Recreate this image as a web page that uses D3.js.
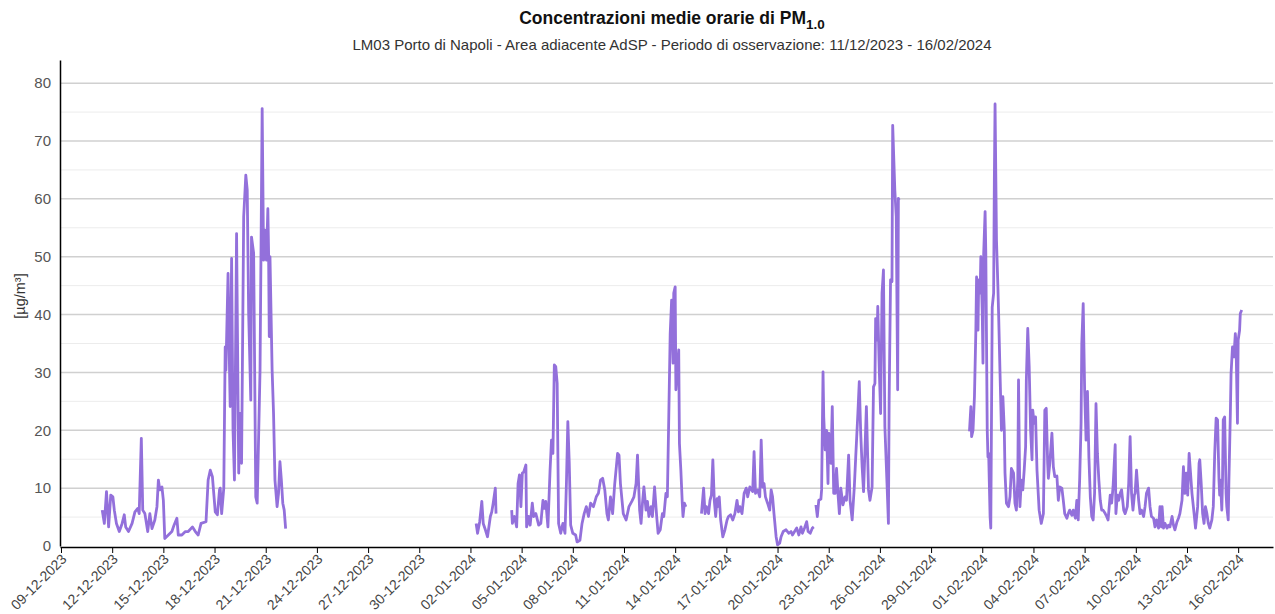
<!DOCTYPE html>
<html>
<head>
<meta charset="utf-8">
<script src="https://cdn.jsdelivr.net/npm/d3@7"></script>
<style>
  body { margin: 0; background: #fff; }
  text { font-family: "Liberation Sans", Arial, sans-serif; }
</style>
</head>
<body>
<script>
// hourly PM1.0 values, hours counted from 11/12/2023 00:00 (null = missing data)
const startDate = "2023-12-11 00:00"

const hours1 = [10,13,16,19,22,25,27,30,34,38,41,43,47,52,56,60,62,65,67,70,74,77,80,84,87,89,91,94,96,98,103,108,111,115,117,122,127,131,137,141,145,149,156,159,162,165,169,172,175,176,178,181,183,184,187,189,190,192,194,196,199,202,204,206,209,212,214,216,219,220,223,226,228,232,235,237,239,241,243,244,245,246,249,251,253,256,258,260,262,264,266,268]
const values1 = [6.2,3.9,9.4,3.3,8.8,8.5,6.2,3.9,2.5,3.9,5.4,3.3,2.5,3.9,5.9,6.5,5.6,18.6,6.2,5.6,2.5,5.6,3.0,4.5,6.8,11.4,9.7,10.2,7.9,1.3,1.9,2.5,3.6,4.8,1.9,1.9,2.5,2.5,3.3,2.5,1.9,3.9,4.2,11.4,13.1,12.0,5.9,5.4,9.7,10.0,5.6,10.0,34.4,30.4,47.1,31.0,24.1,49.7,20.0,11.4,54.0,12.6,22.9,14.3,56.9,64.1,61.5,40.2,25.2,53.4,50.6,8.5,7.4,30.4,75.6,49.4,54.6,49.4,58.3,51.1,36.2,50.0,30.4,22.9,11.4,6.8,9.1,14.6,11.4,7.4,6.2,3.0]

const hours2 = [536,538,541,544,546,549,552,556,558,560,563,564,575,586,587,590,593,595,597,599,601,603,606,607,610,612,615,617,620,624,627,630,632,634,637,640,642,644,646,648,650,652,655,658,661,663,665,667,669,672,676,678,682,685,688,691,694,697,701,705,708,711,714,717,720,722,725,728,731,735,737,739,743,747,751,755,758,761,763,766,768,770,772,775,777,779,782,784,787,790,792,795,798,800,803,805,807,809,811,813,814,816,817,819,821,822,824,826,827,829,831]
const values2 = [3.9,2.2,4.2,7.7,3.9,2.8,1.6,5.1,5.9,7.4,10.0,5.6,null,6.2,3.9,5.1,3.3,10.8,12.3,6.8,12.6,12.8,14.0,3.3,5.1,3.6,7.4,5.1,5.6,3.6,3.9,7.9,6.5,7.7,3.3,13.1,18.3,16.0,31.3,31.0,28.1,3.9,2.2,3.9,2.2,10.8,21.5,14.3,3.6,2.2,1.9,0.7,1.0,3.9,5.6,6.8,5.1,7.4,6.8,8.5,9.1,11.4,11.7,9.7,5.6,4.5,8.5,5.6,10.8,16.0,15.7,10.8,5.6,4.5,6.8,7.7,8.5,10.8,15.7,6.2,3.9,7.4,10.2,6.2,7.7,5.1,6.8,5.1,10.2,5.1,2.2,2.8,5.6,5.1,9.1,8.5,22.3,36.7,42.5,31.6,43.7,44.8,27.0,31.0,33.9,17.7,13.1,7.4,5.1,7.4,6.8]

const hours3 = [853,856,858,860,863,865,867,869,871,873,875,876,878,880,883,886,889,891,894,897,900,903,905,907,910,913,916,918,921,925,927,929,932,935,937,939,941,943,946,949,951,953,955,958,960,963,965,968,972,976,979,981,984,987,990,993,995,998,1001,1003,1006,1009,1011,1012,1014,1016,1018,1021,1022,1024,1025,1027,1029,1031,1032,1035,1037,1039,1041,1043,1045,1047,1049,1052,1055,1057,1060,1062,1065,1068,1070,1073,1075,1077,1079,1081,1083,1085,1088,1090,1093,1095,1097,1098,1100,1101,1103,1105,1107,1109,1111,1114,1116,1117,1119,1121,1122,1125,1127,1129,1130,1131]
const values3 = [5.6,10.0,5.6,6.8,5.6,7.9,8.8,14.9,7.9,5.1,8.2,6.8,8.5,4.5,1.6,2.8,4.5,5.1,5.4,4.5,5.6,7.9,5.9,6.8,5.6,9.1,10.0,8.5,10.2,9.4,16.3,9.1,9.7,8.5,18.3,10.2,10.8,8.5,7.4,6.2,9.7,8.5,5.6,1.6,0.2,0.5,1.6,2.5,2.8,2.2,2.5,1.9,2.5,3.1,1.9,3.3,2.2,3.1,4.2,2.5,2.2,3.1,3.3,null,7.1,5.1,7.9,8.1,9.7,30.1,22.3,16.6,20.0,10.8,19.5,14.3,24.1,9.1,9.1,13.4,9.1,5.6,10.0,7.1,8.5,7.9,15.7,7.9,4.5,10.2,15.4,22.9,28.4,19.5,13.7,9.4,16.6,24.1,9.7,7.9,10.2,27.5,28.1,39.3,35.6,41.4,31.0,22.9,43.7,47.7,20.6,10.8,3.9,25.2,46.0,45.7,72.7,61.5,56.9,27.0,60.1,59.8]

const hours4 = [1230,1232,1233,1235,1237,1239,1240,1242,1243,1245,1246,1248,1249,1250,1252,1253,1255,1256,1257,1259,1260,1262,1264,1265,1266,1268,1270,1271,1273,1275,1277,1279,1280,1282,1285,1287,1289,1292,1294,1296,1298,1299,1301,1303,1305,1307,1309,1310,1312,1314,1316,1318,1319,1321,1323,1325,1328,1331,1334,1336,1338,1340,1341,1343,1346,1348,1350,1353,1355,1357,1360,1362,1364,1367,1369,1371,1374,1376,1379,1381,1383,1385,1387,1388,1390,1392,1394,1396,1398,1400,1402,1404,1406,1408,1410,1412,1414,1416,1418,1421,1423,1425,1428,1430,1432,1435,1436,1438,1440,1442,1444,1447,1449,1452,1454,1456,1458,1460,1462,1463,1465,1468,1470,1472,1475,1477,1479,1482,1484,1486,1489,1491,1493,1496,1498,1500,1501,1503,1505,1508,1510,1512,1515,1517,1519,1522,1524,1526,1529,1531,1533,1535,1537,1539,1541,1543,1546,1548,1551,1553,1554,1556,1558,1560,1562,1564,1566,1568,1571,1573,1575,1577,1579,1581,1582,1583,1585,1586,1587,1589,1591,1592,1594,1595,1597,1598,1600,1602,1604,1605,1607,1608,1610,1611,1613]
const values4 = [19.8,24.1,18.9,20.0,25.8,37.3,46.5,37.3,46.0,43.7,50.0,40.2,31.6,50.6,57.8,50.6,20.0,15.4,16.0,5.1,3.1,41.3,43.7,63.2,76.4,52.9,44.8,40.2,29.8,20.0,25.8,20.0,12.6,7.4,6.8,8.5,13.4,12.6,7.4,6.2,11.4,28.7,6.8,11.4,9.7,13.1,17.2,28.7,37.6,31.0,20.0,14.9,23.5,21.2,22.3,13.1,6.2,3.9,5.6,23.5,23.8,14.3,11.7,14.3,19.5,13.7,12.0,12.1,7.9,10.2,10.0,7.9,5.6,4.8,5.6,6.2,5.3,6.2,4.8,7.9,4.5,11.4,21.2,35.0,41.9,27.0,18.3,26.7,15.4,8.5,5.1,4.5,9.1,24.6,16.0,11.4,7.9,6.2,6.2,5.6,5.1,4.5,8.8,7.4,10.2,17.5,5.6,8.8,7.9,9.1,9.7,6.2,5.6,6.8,10.8,18.9,9.1,6.2,8.8,9.1,13.1,7.9,5.6,6.2,5.1,6.8,9.1,10.0,6.8,5.1,4.8,3.3,4.5,3.1,6.8,3.3,6.8,3.1,3.9,3.1,3.6,3.3,5.1,3.6,2.8,4.2,4.8,5.6,7.9,13.7,9.1,12.6,8.8,16.0,12.6,9.1,5.6,3.1,6.8,14.3,14.9,10.8,5.6,3.9,6.8,5.6,3.9,3.1,4.5,6.8,16.0,22.1,21.8,11.4,8.8,11.4,6.2,11.4,21.8,22.3,9.1,6.8,4.5,11.4,22.9,29.8,34.4,32.7,36.7,35.0,21.2,35.6,37.3,40.2,40.8]

const yTicks = [0,10,20,30,40,50,60,70,80]
const yMinor = [5,15,25,35,45,55,65,75]

const titleText = "Concentrazioni medie orarie di PM"
const titleSub = "1.0"
const subtitleText = "LM03 Porto di Napoli - Area adiacente AdSP - Periodo di osservazione: 11/12/2023 - 16/02/2024"
const yLabel = "[µg/m³]"

const width = 1275
const height = 614
const plotLeft = 60
const plotRight = 1273
const plotTop = 60
const plotBottom = 547

const start = d3.timeParse("%Y-%m-%d %H:%M")(startDate)

// gaps between the segments are broken with a null
const allHours = [].concat(hours1, [400], hours2, [842], hours3, [1180], hours4)
const allValues = [].concat(values1, [null], values2, [null], values3, [null], values4)
const data = allHours.map((h, i) => ({t: d3.timeHour.offset(start, h), v: allValues[i]}))

const xScale = d3.scaleTime()
    .domain([new Date(2023, 11, 8, 22, 36), new Date(2024, 1, 18, 1, 0)])
    .range([plotLeft, plotRight])

const yScale = d3.scaleLinear()
    .domain([0, 84])
    .range([plotBottom - 1, plotTop])

const svg = d3.select("body").append("svg")
    .attr("width", width)
    .attr("height", height)

// grid
svg.append("g").selectAll("line")
    .data(yMinor)
    .join("line")
    .attr("x1", plotLeft).attr("x2", plotRight)
    .attr("y1", d => yScale(d)).attr("y2", d => yScale(d))
    .attr("stroke", "#ececec")
    .attr("stroke-width", 1)

svg.append("g").selectAll("line")
    .data(yTicks.slice(1))
    .join("line")
    .attr("x1", plotLeft).attr("x2", plotRight)
    .attr("y1", d => yScale(d)).attr("y2", d => yScale(d))
    .attr("stroke", "#d0d0d0")
    .attr("stroke-width", 1.5)

// series
const line = d3.line()
    .defined(d => d.v !== null)
    .x(d => xScale(d.t))
    .y(d => yScale(d.v))

svg.append("path")
    .datum(data)
    .attr("d", line)
    .attr("fill", "none")
    .attr("stroke", "#9370db")
    .attr("stroke-width", 2.8)
    .attr("stroke-linejoin", "round")

// axes
const xTicks = d3.timeDay.range(new Date(2023, 11, 9), new Date(2024, 1, 17), 3)

const xAxis = svg.append("g")
    .attr("transform", `translate(0,${plotBottom})`)
    .call(d3.axisBottom(xScale).tickValues(xTicks).tickFormat(d3.timeFormat("%d-%m-%Y")).tickSize(6).tickSizeOuter(0))
xAxis.select(".domain").attr("stroke", "#000").attr("stroke-width", 1.5)
xAxis.selectAll(".tick line").attr("stroke", "#000")
xAxis.selectAll("text")
    .attr("font-size", 14)
    .attr("fill", "#444")
    .attr("text-anchor", "end")
    .attr("y", 0)
    .attr("dy", 0)
    .attr("transform", "translate(6,13) rotate(-45)")

const yAxis = svg.append("g")
    .attr("transform", `translate(${plotLeft},0)`)
    .call(d3.axisLeft(yScale).tickValues(yTicks).tickSize(0).tickPadding(9).tickSizeOuter(0))
yAxis.select(".domain").attr("stroke", "#000").attr("stroke-width", 1.5)
yAxis.selectAll("text").attr("font-size", 15).attr("fill", "#555")

// titles
const title = svg.append("text")
    .attr("x", 672).attr("y", 24)
    .attr("text-anchor", "middle")
    .attr("font-size", 17.5)
    .attr("font-weight", "bold")
    .attr("fill", "#111")
title.append("tspan").text(titleText)
title.append("tspan").attr("font-size", 13.5).attr("dy", 5).text(titleSub)

svg.append("text")
    .attr("x", 672).attr("y", 50)
    .attr("text-anchor", "middle")
    .attr("font-size", 15)
    .attr("fill", "#333")
    .text(subtitleText)

svg.append("text")
    .attr("transform", "translate(25,296) rotate(-90)")
    .attr("text-anchor", "middle")
    .attr("font-size", 14.5)
    .attr("fill", "#333")
    .text(yLabel)
</script>
</body>
</html>
